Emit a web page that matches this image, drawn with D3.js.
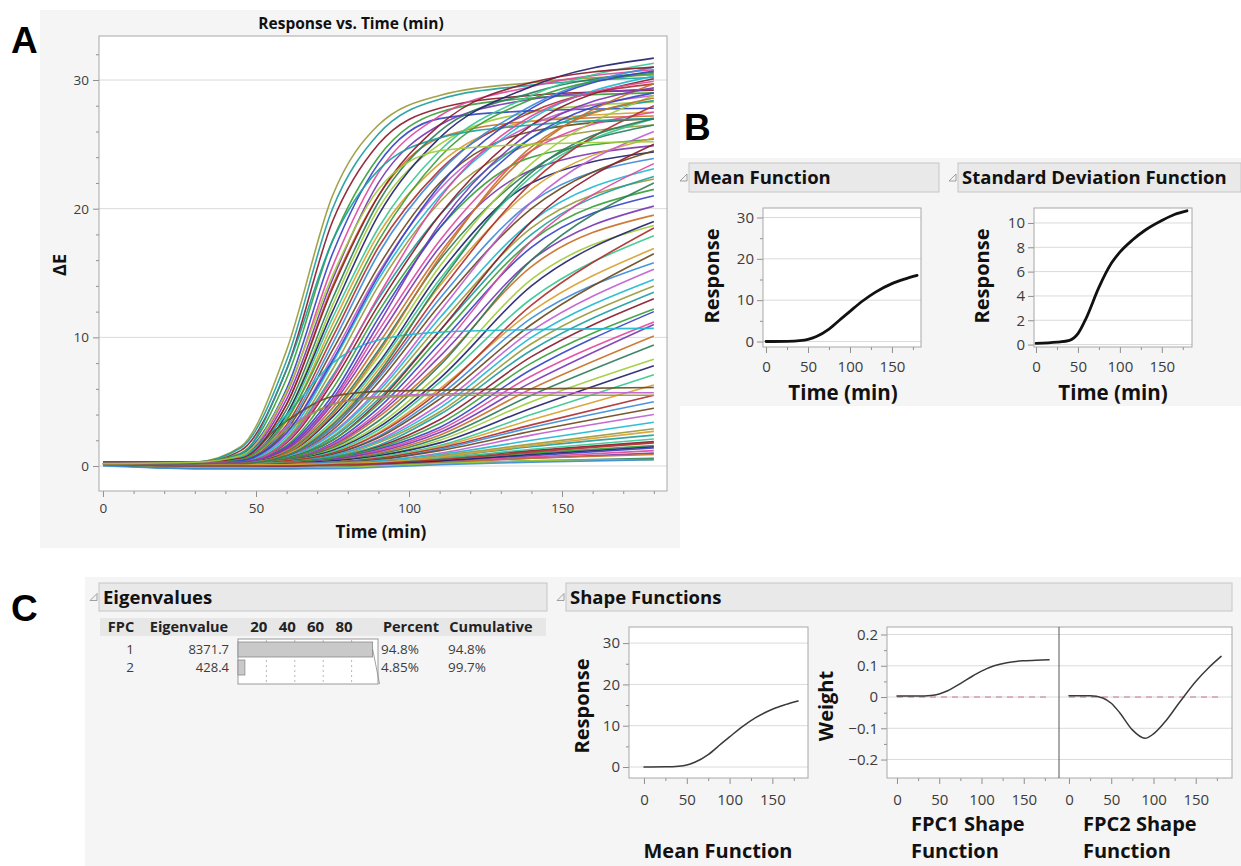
<!DOCTYPE html>
<html>
<head>
<meta charset="utf-8">
<script src="https://cdn.jsdelivr.net/npm/d3@7"></script>
<style>
  body { margin: 0; background: #fff; }
  svg text { font-family: "Open Sans", "Noto Sans", sans-serif; }
</style>
</head>
<body>
<svg id="fig" width="1241" height="866"></svg>
<script>
// ---- panel A: one row per run, values of ΔE at timeGrid (min)
const timeGrid = [0, 30, 45, 60, 75, 90, 110, 140, 180];
const deltaE = [
  [0.2, 0.3, 1.5, 9.0, 21.0, 26.5, 28.8, 29.8, 30.4],
  [0.3, 0.3, 1.4, 8.2, 20.0, 25.8, 28.5, 29.6, 30.2],
  [0.1, 0.2, 1.2, 7.5, 19.0, 25.0, 27.8, 28.8, 29.2],
  [0.2, 0.3, 1.0, 6.8, 17.5, 24.0, 27.5, 28.6, 29.0],
  [0.1, 0.2, 0.9, 6.0, 16.5, 23.5, 27.0, 27.6, 27.8],
  [0.3, 0.3, 0.8, 5.6, 15.5, 22.8, 27.2, 29.5, 30.8],
  [0.2, 0.2, 0.7, 5.2, 14.5, 22.0, 26.5, 28.5, 29.3],
  [0.2, 0.3, 0.7, 4.8, 14.0, 21.0, 25.5, 26.8, 27.2],
  [0.1, 0.2, 0.6, 4.4, 13.0, 20.5, 26.0, 29.0, 30.6],
  [0.2, 0.2, 0.6, 4.0, 12.5, 20.0, 25.0, 27.5, 28.3],
  [0.2, 0.2, 0.5, 4.0, 12.0, 19.5, 25.5, 29.5, 31.7],
  [0.3, 0.3, 0.5, 3.8, 11.5, 18.5, 24.5, 28.8, 31.3],
  [0.1, 0.2, 0.5, 3.5, 11.0, 18.0, 23.5, 26.8, 27.5],
  [0.2, 0.2, 0.4, 3.2, 10.0, 17.0, 23.0, 27.5, 29.7],
  [0.2, 0.3, 0.4, 3.0, 9.5, 16.5, 22.8, 28.0, 31.0],
  [0.1, 0.2, 0.4, 2.8, 9.0, 15.5, 22.0, 26.0, 27.0],
  [0.2, 0.2, 0.4, 2.5, 8.5, 15.0, 21.5, 26.5, 28.8],
  [0.3, 0.3, 0.4, 2.3, 8.0, 14.5, 21.0, 27.0, 30.3],
  [0.2, 0.2, 0.3, 2.1, 7.5, 14.0, 20.5, 25.0, 26.5],
  [0.1, 0.2, 0.3, 2.0, 7.0, 13.0, 19.5, 25.5, 28.4],
  [0.2, 0.3, 0.3, 1.8, 6.5, 12.5, 19.5, 26.5, 30.1],
  [0.2, 0.2, 0.3, 1.6, 6.0, 12.0, 18.5, 24.0, 25.4],
  [0.1, 0.2, 0.3, 1.5, 5.5, 11.5, 18.5, 25.5, 29.0],
  [0.2, 0.2, 0.3, 1.4, 5.0, 10.5, 17.5, 24.5, 27.5],
  [0.3, 0.3, 0.3, 1.3, 4.8, 10.0, 17.0, 23.0, 24.9],
  [0.2, 0.2, 0.3, 1.2, 4.5, 9.5, 16.5, 24.5, 29.7],
  [0.1, 0.1, 0.2, 1.1, 4.2, 9.0, 16.0, 23.0, 26.5],
  [0.2, 0.2, 0.3, 1.0, 4.0, 8.5, 15.5, 23.5, 28.8],
  [0.2, 0.3, 0.3, 1.0, 3.8, 8.0, 15.0, 22.0, 24.4],
  [0.1, 0.2, 0.2, 0.9, 3.5, 7.8, 14.5, 22.5, 27.0],
  [0.2, 0.2, 0.2, 0.9, 3.3, 7.5, 14.0, 21.5, 25.5],
  [0.3, 0.3, 0.3, 0.8, 3.0, 7.0, 13.5, 22.0, 28.0],
  [0.2, 0.2, 0.2, 0.8, 3.0, 6.8, 13.0, 20.5, 23.9],
  [0.1, 0.2, 0.2, 0.7, 2.8, 6.5, 12.5, 20.0, 24.5],
  [0.2, 0.2, 0.2, 0.7, 2.6, 6.0, 12.0, 20.5, 26.0],
  [0.2, 0.3, 0.3, 0.7, 2.5, 5.8, 11.5, 19.0, 23.1],
  [0.1, 0.1, 0.2, 0.6, 2.3, 5.5, 11.0, 18.5, 22.3],
  [0.2, 0.2, 0.2, 0.6, 2.2, 5.2, 10.5, 18.0, 22.5],
  [0.2, 0.2, 0.2, 0.6, 2.0, 5.0, 10.5, 19.0, 25.0],
  [0.3, 0.3, 0.3, 0.6, 2.0, 4.8, 10.0, 17.5, 21.5],
  [0.1, 0.2, 0.2, 0.5, 1.8, 4.5, 9.5, 17.0, 21.0],
  [0.2, 0.2, 0.2, 0.5, 1.7, 4.2, 9.0, 17.5, 23.5],
  [0.2, 0.2, 0.2, 0.5, 1.6, 4.0, 8.5, 16.0, 20.2],
  [0.1, 0.1, 0.2, 0.5, 1.5, 3.8, 8.0, 15.5, 19.5],
  [0.2, 0.2, 0.2, 0.5, 1.4, 3.5, 7.8, 16.0, 22.0],
  [0.2, 0.2, 0.2, 0.4, 1.3, 3.2, 7.2, 14.5, 18.7],
  [0.1, 0.1, 0.1, 0.4, 1.2, 3.0, 6.8, 14.0, 19.0],
  [0.2, 0.2, 0.2, 0.4, 1.1, 2.8, 6.5, 13.0, 17.9],
  [0.2, 0.2, 0.2, 0.4, 1.0, 2.6, 6.0, 12.0, 16.9],
  [0.1, 0.1, 0.2, 0.4, 1.0, 2.5, 5.8, 12.5, 18.5],
  [0.2, 0.2, 0.2, 0.3, 0.9, 2.3, 5.5, 11.5, 15.8],
  [0.2, 0.2, 0.2, 0.3, 0.9, 2.2, 5.2, 11.0, 16.5],
  [0.1, 0.1, 0.1, 0.3, 0.8, 2.0, 4.8, 10.5, 15.3],
  [0.2, 0.2, 0.2, 0.3, 0.8, 1.9, 4.5, 10.0, 14.5],
  [0.2, 0.2, 0.2, 0.3, 0.7, 1.8, 4.2, 9.5, 14.0],
  [0.1, 0.1, 0.1, 0.3, 0.7, 1.6, 4.0, 9.0, 13.5],
  [0.2, 0.2, 0.2, 0.3, 0.6, 1.5, 3.6, 8.5, 13.0],
  [0.2, 0.2, 0.2, 0.3, 0.6, 1.4, 3.3, 8.0, 12.2],
  [0.1, 0.1, 0.1, 0.2, 0.5, 1.3, 3.0, 7.5, 12.0],
  [0.2, 0.2, 0.2, 0.2, 0.5, 1.2, 2.8, 7.0, 11.2],
  [0.2, 0.2, 0.2, 0.2, 0.5, 1.1, 2.6, 6.5, 11.0],
  [0.1, 0.1, 0.1, 0.2, 0.4, 1.0, 2.4, 6.0, 10.1],
  [0.2, 0.2, 0.2, 0.2, 0.4, 0.9, 2.2, 5.5, 9.4],
  [0.2, 0.2, 0.2, 0.2, 0.4, 0.8, 2.0, 5.0, 8.3],
  [0.1, 0.1, 0.1, 0.2, 0.4, 0.8, 1.8, 4.5, 7.8],
  [0.2, 0.2, 0.2, 0.2, 0.3, 0.7, 1.6, 4.0, 7.1],
  [0.1, 0.1, 0.1, 0.2, 0.3, 0.6, 1.5, 3.6, 6.3],
  [0.2, 0.1, 0.1, 0.2, 0.3, 0.6, 1.4, 3.2, 5.5],
  [0.1, 0.0, 0.0, 0.1, 0.3, 0.5, 1.3, 3.0, 5.0],
  [0.2, 0.1, 0.1, 0.1, 0.2, 0.5, 1.2, 2.7, 4.5],
  [0.1, 0.0, 0.0, 0.1, 0.2, 0.4, 1.0, 2.4, 4.0],
  [0.2, 0.1, 0.1, 0.1, 0.2, 0.4, 0.9, 2.0, 3.4],
  [0.1, 0.0, 0.0, 0.1, 0.2, 0.3, 0.8, 1.7, 2.9],
  [0.2, 0.1, 0.0, 0.1, 0.2, 0.3, 0.7, 1.5, 2.4],
  [0.1, -0.1, -0.1, 0.0, 0.1, 0.3, 0.6, 1.2, 1.9],
  [0.2, 0.0, 0.0, 0.1, 0.1, 0.2, 0.5, 1.0, 1.6],
  [0.1, -0.1, -0.1, 0.0, 0.1, 0.2, 0.4, 0.8, 1.4],
  [0.2, 0.0, 0.0, 0.0, 0.1, 0.2, 0.4, 0.7, 1.2],
  [0.1, -0.1, -0.1, -0.1, 0.0, 0.1, 0.3, 0.6, 1.0],
  [0.3, 0.1, 0.1, 0.1, 0.1, 0.2, 0.3, 0.6, 0.9],
  [0.1, -0.2, -0.2, -0.2, -0.1, 0.0, 0.2, 0.4, 0.6],
  [0.2, -0.1, -0.1, -0.1, -0.1, 0.0, 0.2, 0.4, 0.5],
  [0.2, 0.0, 0.0, 0.0, 0.1, 0.2, 0.4, 0.9, 1.5],
  [0.1, 0.0, 0.0, 0.1, 0.1, 0.3, 0.6, 1.3, 2.1],
  [0.2, 0.1, 0.1, 0.1, 0.2, 0.3, 0.7, 1.6, 2.7],
  [0.1, 0.0, 0.0, 0.0, 0.1, 0.2, 0.5, 1.1, 1.8],
  [0.0, -0.2, -0.2, -0.2, -0.2, -0.1, 0.1, 0.3, 0.5],
  [0.2, 0.3, 0.8, 3.5, 5.4, 5.8, 5.9, 6.0, 6.1],
  [0.1, 0.2, 0.6, 3.0, 4.8, 5.4, 5.6, 5.7, 5.7],
  [0.2, 0.2, 0.7, 4.0, 8.0, 9.8, 10.4, 10.6, 10.7],
  [0.2, 0.3, 0.5, 2.8, 4.8, 5.3, 5.5, 5.5, 5.5],
  [0.2, 0.2, 0.9, 7.5, 17.5, 23.0, 25.5, 26.5, 27.0],
  [0.3, 0.3, 0.6, 4.8, 13.8, 21.0, 26.5, 29.8, 31.0],
  [0.2, 0.2, 0.5, 3.6, 10.5, 17.5, 24.0, 28.5, 30.5],
  [0.1, 0.2, 0.4, 2.6, 8.2, 14.8, 21.8, 27.8, 30.7],
  [0.2, 0.3, 0.3, 1.9, 6.8, 13.2, 20.8, 27.2, 29.9],
  [0.2, 0.2, 0.3, 1.4, 5.2, 11.0, 18.8, 26.0, 29.4],
  [0.1, 0.2, 0.2, 1.0, 4.0, 8.8, 16.2, 24.8, 28.6],
  [0.2, 0.2, 0.2, 0.8, 3.2, 7.2, 14.2, 22.8, 27.0],
  [0.2, 0.3, 0.8, 5.8, 14.8, 21.5, 24.5, 25.0, 25.2]
];
const curveColors = ['#9a9a3c', '#1f9e9e', '#8b1c2c', '#3aa03a', '#3444c4', '#e0489c', '#7a38b4',
  '#c8702a', '#2e7d5a', '#a0cc3c', '#23236e', '#38c890', '#d8a030', '#b03030', '#3c8cd8',
  '#6b4a1e', '#c060d0', '#20b8d0'];

// ---- panels B and C: functional summaries
const fnTimes = [0, 25, 40, 50, 60, 75, 90, 100, 115, 130, 150, 165, 180];
const meanResponse = [0.0, 0.05, 0.2, 0.5, 1.2, 3.0, 5.6, 7.3, 9.8, 11.9, 14.0, 15.1, 16.0];
const sdResponse = [0.1, 0.2, 0.35, 0.9, 2.2, 4.7, 6.7, 7.6, 8.6, 9.4, 10.2, 10.7, 11.0];
const fpc1Weight = [0.003, 0.003, 0.005, 0.01, 0.02, 0.043, 0.068, 0.083, 0.1, 0.11, 0.116, 0.118, 0.119];
const fpc2Weight = [0.004, 0.004, -0.003, -0.02, -0.05, -0.105, -0.132, -0.118, -0.075, -0.02, 0.05, 0.093, 0.13];

// ---- eigenvalue table
const fpcIds = [1, 2];
const eigenvalues = [8371.7, 428.4];
const eigenPercent = [94.8, 4.85];
const eigenCumulative = [94.8, 99.7];
const barTicks = [20, 40, 60, 80];

const svg = d3.select('#fig');
const LETTER_FONT = '"Liberation Sans", Arial, sans-serif';
const INK = '#3c3c3c';

function panelBg(x, y, w, h) {
  svg.append('rect').attr('x', x).attr('y', y).attr('width', w).attr('height', h).attr('fill', '#f5f5f5');
}

function panelLetter(x, y, s) {
  svg.append('text').attr('x', x).attr('y', y).text(s)
    .style('font-family', LETTER_FONT).attr('font-weight', 'bold').attr('font-size', 37).attr('fill', '#000');
}

function outlineHeader(x, y, w, h, label) {
  const tx = x - 9, ty = y + h / 2;
  svg.append('path')
    .attr('d', `M${tx},${ty + 3.5}L${tx + 7},${ty + 3.5}L${tx + 7},${ty - 3.5}Z`)
    .attr('fill', '#f2f2f2').attr('stroke', '#8a8a8a').attr('stroke-width', 0.8);
  svg.append('rect').attr('x', x).attr('y', y).attr('width', w).attr('height', h)
    .attr('fill', '#e9e9e9').attr('stroke', '#c6c6c6');
  svg.append('text').attr('x', x + 4).attr('y', y + h / 2).attr('dy', '0.36em')
    .attr('font-weight', 'bold').attr('font-size', 18.5).attr('fill', '#111').text(label);
}

function styleAxis(a, fs) {
  a.select('.domain').remove();
  a.selectAll('line').attr('stroke', '#8f8f8f');
  a.selectAll('text').attr('font-size', fs).attr('fill', INK)
    .style('font-family', '"Open Sans", "Noto Sans", sans-serif');
}

// a JMP-like framed plot area with gridlines and axes
function plotArea(o) {
  const g = svg.append('g');
  const x = d3.scaleLinear().domain(o.xDomain).range([o.left, o.right]);
  const y = d3.scaleLinear().domain(o.yDomain).range([o.bottom, o.top]);
  g.append('rect').attr('x', o.left).attr('y', o.top)
    .attr('width', o.right - o.left).attr('height', o.bottom - o.top).attr('fill', '#fff');
  g.selectAll('line.grid').data(o.yMajor).join('line').attr('class', 'grid')
    .attr('x1', o.left).attr('x2', o.right)
    .attr('y1', d => y(d)).attr('y2', d => y(d))
    .attr('stroke', '#dadada');

  if (o.showY !== false) {
    const ay = g.append('g').attr('transform', `translate(${o.left},0)`)
      .call(d3.axisLeft(y).tickValues(o.yMajor).tickSize(6).tickSizeOuter(0)
        .tickPadding(o.yPad || 3).tickFormat(o.yFmt || d3.format('d')));
    styleAxis(ay, o.fs);
    if (o.yMinor) {
      const my = g.append('g').attr('transform', `translate(${o.left},0)`)
        .call(d3.axisLeft(y).tickValues(o.yMinor).tickSize(3).tickSizeOuter(0).tickFormat(''));
      styleAxis(my, o.fs);
    }
  }
  const ax = g.append('g').attr('transform', `translate(0,${o.bottom})`)
    .call(d3.axisBottom(x).tickValues(o.xMajor).tickSize(6).tickSizeOuter(0)
      .tickPadding(o.xPad || 4).tickFormat(d3.format('d')));
  styleAxis(ax, o.fs);
  if (o.xMinor) {
    const mx = g.append('g').attr('transform', `translate(0,${o.bottom})`)
      .call(d3.axisBottom(x).tickValues(o.xMinor).tickSize(3).tickSizeOuter(0).tickFormat(''));
    styleAxis(mx, o.fs);
  }
  return { g, x, y };
}

function border(l, t, r, b, col) {
  svg.append('rect').attr('x', l).attr('y', t).attr('width', r - l).attr('height', b - t)
    .attr('fill', 'none').attr('stroke', col || '#a8a8a8');
}

function axisTitle(x, y, label, fs, rotate) {
  const t = svg.append('text').attr('text-anchor', 'middle').attr('font-weight', 'bold')
    .attr('font-size', fs).attr('fill', '#111').text(label);
  if (rotate) t.attr('transform', `translate(${x},${y}) rotate(-90)`).attr('dy', '0.36em');
  else t.attr('x', x).attr('y', y);
  return t;
}

function fnLine(p, xs, ys, color, width) {
  const pts = xs.map((t, i) => [t, ys[i]]);
  p.g.append('path').datum(pts)
    .attr('d', d3.line().x(d => p.x(d[0])).y(d => p.y(d[1])).curve(d3.curveMonotoneX))
    .attr('fill', 'none').attr('stroke', color).attr('stroke-width', width)
    .attr('stroke-linecap', 'round');
}

// ================= Panel A =================
panelBg(40, 10, 640, 538);
panelLetter(11, 53, 'A');
svg.append('text').attr('x', 351).attr('y', 29).attr('text-anchor', 'middle')
  .attr('font-weight', 'bold').attr('font-size', 15.5).attr('fill', '#111')
  .text('Response vs. Time (min)');

const pA = plotArea({
  left: 99, right: 667, top: 36, bottom: 491,
  xDomain: [-1.3, 184.3], yDomain: [-1.94, 33.42],
  xMajor: [0, 50, 100, 150], xMinor: d3.range(10, 190, 10).filter(v => v % 50 !== 0),
  yMajor: [0, 10, 20, 30], yMinor: d3.range(-0, 34, 2).filter(v => v % 10 !== 0),
  fs: 13.5, xPad: 6, yPad: 4
});
svg.append('clipPath').attr('id', 'clipA').append('rect')
  .attr('x', 99).attr('y', 36).attr('width', 568).attr('height', 455);
const lineA = d3.line().x((d, i) => pA.x(timeGrid[i])).y(d => pA.y(d)).curve(d3.curveMonotoneX);
pA.g.append('g').attr('clip-path', 'url(#clipA)')
  .selectAll('path').data(deltaE).join('path')
  .attr('d', lineA).attr('fill', 'none')
  .attr('stroke', (d, i) => curveColors[i % curveColors.length])
  .attr('stroke-width', 1.6).attr('stroke-opacity', 0.92);
border(99, 36, 667, 491);
axisTitle(381, 538, 'Time (min)', 17);
axisTitle(60, 265, 'ΔE', 18, true);

// ================= Panel B =================
panelBg(678, 158, 563, 248);
panelLetter(684, 140, 'B');
outlineHeader(689, 163, 250, 29, 'Mean Function');
outlineHeader(958, 163, 283, 29, 'Standard Deviation Function');

const pBm = plotArea({
  left: 763, right: 921, top: 208, bottom: 347,
  xDomain: [-3.6, 184.6], yDomain: [-1.33, 32.3],
  xMajor: [0, 50, 100, 150], xMinor: [25, 75, 125, 175],
  yMajor: [0, 10, 20, 30], yMinor: [5, 15, 25],
  fs: 15, xPad: 8, yPad: 3
});
fnLine(pBm, fnTimes, meanResponse, '#111', 2.8);
border(763, 208, 921, 347);
axisTitle(843, 400, 'Time (min)', 20.5);
axisTitle(712, 276, 'Response', 20, true);

const pBs = plotArea({
  left: 1034, right: 1192, top: 208, bottom: 347,
  xDomain: [-2.4, 186], yDomain: [-0.2, 11.23],
  xMajor: [0, 50, 100, 150], xMinor: [25, 75, 125, 175],
  yMajor: [0, 2, 4, 6, 8, 10],
  fs: 15, xPad: 8, yPad: 3
});
fnLine(pBs, fnTimes, sdResponse, '#111', 2.8);
border(1034, 208, 1192, 347);
axisTitle(1113, 400, 'Time (min)', 20.5);
axisTitle(982, 276, 'Response', 20, true);

// ================= Panel C =================
panelBg(85, 577, 1156, 289);
panelLetter(11, 621, 'C');
outlineHeader(99, 583, 448, 28, 'Eigenvalues');
outlineHeader(566, 583, 666, 28, 'Shape Functions');

// eigenvalue table
svg.append('rect').attr('x', 100).attr('y', 618).attr('width', 446).attr('height', 18).attr('fill', '#e7e7e7');
const colHead = [['FPC', 121, 'middle'], ['Eigenvalue', 189, 'middle'], ['Percent', 411, 'middle'], ['Cumulative', 491, 'middle']];
svg.selectAll('text.colhead').data(colHead).join('text').attr('class', 'colhead')
  .attr('x', d => d[1]).attr('y', 627).attr('dy', '0.36em').attr('text-anchor', d => d[2])
  .attr('font-weight', 'bold').attr('font-size', 14.5).attr('fill', '#222').text(d => d[0]);

const barX = d3.scaleLinear().domain([0, 100]).range([238, 380]);
svg.selectAll('text.bartick').data(barTicks).join('text').attr('class', 'bartick')
  .attr('x', d => barX(d) + 1).attr('y', 627).attr('dy', '0.36em').attr('text-anchor', 'end')
  .attr('font-weight', 'bold').attr('font-size', 15).attr('fill', '#222').text(d => d);

const rowY = d3.scalePoint().domain(fpcIds).range([649, 667]);
svg.append('rect').attr('x', 238).attr('y', 639).attr('width', 140).attr('height', 45)
  .attr('fill', '#fff').attr('stroke', '#9a9a9a');
svg.selectAll('line.bargrid').data(barTicks).join('line').attr('class', 'bargrid')
  .attr('x1', d => barX(d)).attr('x2', d => barX(d)).attr('y1', 640).attr('y2', 683)
  .attr('stroke', '#b8b8b8').attr('stroke-dasharray', '2,3');
svg.selectAll('rect.bar').data(eigenPercent).join('rect').attr('class', 'bar')
  .attr('x', barX(0)).attr('y', (d, i) => rowY(fpcIds[i]) - 7)
  .attr('width', d => barX(d) - barX(0)).attr('height', 15)
  .attr('fill', '#c9c9c9').attr('stroke', '#8a8a8a').attr('stroke-width', 0.8);
svg.append('line').attr('x1', barX(eigenPercent[0])).attr('y1', rowY(1))
  .attr('x2', barX(eigenCumulative[1])).attr('y2', 684).attr('stroke', '#8a8a8a').attr('stroke-width', 0.8);

const rows = svg.append('g').attr('font-size', 13.5).attr('fill', INK);
fpcIds.forEach((id, i) => {
  const y = rowY(id);
  rows.append('text').attr('x', 134).attr('y', y).attr('dy', '0.36em').attr('text-anchor', 'end').text(id);
  rows.append('text').attr('x', 229).attr('y', y).attr('dy', '0.36em').attr('text-anchor', 'end')
    .attr('font-size', 13).text(d3.format('.1f')(eigenvalues[i]));
  rows.append('text').attr('x', 381).attr('y', y).attr('dy', '0.36em').text(eigenPercent[i] + '%');
  rows.append('text').attr('x', 448).attr('y', y).attr('dy', '0.36em').text(eigenCumulative[i] + '%');
});

// shape functions: mean
const pCm = plotArea({
  left: 629, right: 808, top: 627, bottom: 778,
  xDomain: [-17.5, 191.6], yDomain: [-2.66, 33.9],
  xMajor: [0, 50, 100, 150], xMinor: [25, 75, 125, 175],
  yMajor: [0, 10, 20, 30], yMinor: [5, 15, 25],
  fs: 15, xPad: 10, yPad: 3
});
fnLine(pCm, fnTimes, meanResponse, '#3a3a3a', 1.5);
border(629, 627, 808, 778);
axisTitle(718, 858, 'Mean Function', 20);
axisTitle(582, 706, 'Response', 20, true);

// shape functions: FPC1 and FPC2 side by side
const fpcY = [-0.259, 0.224];
const pC1 = plotArea({
  left: 887, right: 1059, top: 627, bottom: 778,
  xDomain: [-11.8, 191.7], yDomain: fpcY,
  xMajor: [0, 50, 100, 150], xMinor: [25, 75, 125, 175],
  yMajor: [-0.2, -0.1, 0, 0.1, 0.2], yMinor: [-0.15, -0.05, 0.05, 0.15],
  yFmt: d => (d === 0 ? '0' : d3.format('.1f')(d)),
  fs: 15, xPad: 10, yPad: 3
});
const pC2 = plotArea({
  left: 1059, right: 1232, top: 627, bottom: 778,
  xDomain: [-11.8, 192.9], yDomain: fpcY,
  xMajor: [0, 50, 100, 150], xMinor: [25, 75, 125, 175],
  yMajor: [-0.2, -0.1, 0, 0.1, 0.2], showY: false,
  fs: 15, xPad: 10
});
[pC1, pC2].forEach(p => {
  p.g.append('line').attr('x1', p.x(0)).attr('x2', p.x(180)).attr('y1', p.y(0)).attr('y2', p.y(0))
    .attr('stroke', '#c97488').attr('stroke-width', 1).attr('stroke-dasharray', '6,5');
});
fnLine(pC1, fnTimes, fpc1Weight, '#3a3a3a', 1.5);
fnLine(pC2, fnTimes, fpc2Weight, '#3a3a3a', 1.5);
border(887, 627, 1232, 778);
svg.append('line').attr('x1', 1059).attr('x2', 1059).attr('y1', 627).attr('y2', 778)
  .attr('stroke', '#555').attr('stroke-width', 1);
axisTitle(826, 706, 'Weight', 20, true);
[['FPC1 Shape', 911, 831], ['Function', 911, 858], ['FPC2 Shape', 1083, 831], ['Function', 1083, 858]]
  .forEach(d => {
    svg.append('text').attr('x', d[1]).attr('y', d[2]).attr('font-weight', 'bold')
      .attr('font-size', 20).attr('fill', '#111').text(d[0]);
  });
</script>
</body>
</html>
